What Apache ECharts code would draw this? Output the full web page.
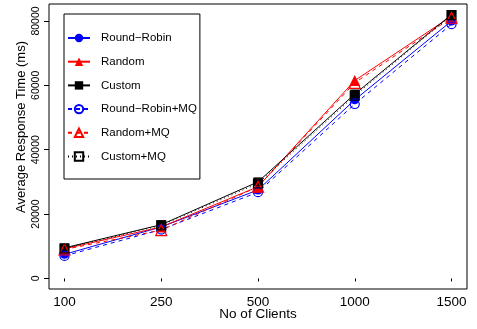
<!DOCTYPE html>
<html>
<head>
<meta charset="utf-8">
<script src="https://cdn.jsdelivr.net/npm/echarts@6/dist/echarts.min.js"></script>
<style>
html,body{margin:0;padding:0;background:#fff;}
#c{width:477px;height:329px;}
</style>
</head>
<body>
<div id="c"></div>
<script>
const categories = ['100', '250', '500', '1000', '1500'];
const roundRobin   = [7500, 16000, 27500, 55500, 80000];
const random       = [9200, 16000, 28500, 61500, 81500];
const custom       = [9500, 16700, 30000, 57300, 82000];
const roundRobinMQ = [7000, 15200, 26800, 54200, 79000];
const randomMQ     = [9000, 15000, 28500, 60800, 81000];
const customMQ     = [9300, 16500, 29500, 56800, 81800];
const yTicks = [0, 20000, 40000, 60000, 80000];
const xTicks = [1, 2, 3, 4, 5];

const FONT = 'Liberation Sans, Arial, Helvetica, sans-serif';
const toPts = arr => arr.map((v, i) => [i + 1, v]);

function mk(name, data, color, symbol, hollow, dash) {
  return {
    name: name,
    type: 'line',
    data: toPts(data),
    symbol: symbol,
    symbolSize: symbol === 'triangle' ? 11 : 9,
    showSymbol: true,
    animation: false,
    lineStyle: { color: color, width: 1, type: dash },
    itemStyle: { color: hollow ? 'transparent' : color, borderColor: color, borderWidth: hollow ? 1.2 : 0 },
    emphasis: { disabled: true }
  };
}

const chart = echarts.init(document.getElementById('c'));
chart.setOption({
  backgroundColor: '#fff',
  animation: false,
  grid: { left: 49, right: 10, top: 4, bottom: 40, show: true, borderColor: '#000', borderWidth: 1, backgroundColor: 'transparent' },
  xAxis: {
    type: 'value', min: 0.84, max: 5.16,
    axisLine: { show: false },
    splitLine: { show: false },
    axisTick: { show: true, length: 3, lineStyle: { color: '#000' }, customValues: xTicks },
    axisLabel: { customValues: xTicks, formatter: v => categories[Math.round(v) - 1], color: '#000', fontFamily: FONT, fontSize: 13.5, margin: 6 }
  },
  yAxis: {
    type: 'value', min: -3280, max: 85280,
    axisLine: { show: false },
    splitLine: { show: false },
    axisTick: { show: true, length: 5, lineStyle: { color: '#000' }, customValues: yTicks },
    axisLabel: { customValues: yTicks, formatter: v => String(v), rotate: 90, color: '#000', fontFamily: FONT, fontSize: 10.5, margin: 7 }
  },
  legend: {
    orient: 'vertical', left: 64, top: 14,
    backgroundColor: '#fff', borderColor: '#000', borderWidth: 1,
    padding: [18, 3, 16.5, 3],
    itemWidth: 22, itemHeight: 10.5, itemGap: 11.7,
    textStyle: { color: '#000', fontFamily: FONT, fontSize: 11.5, padding: [0, 0, 0, 6] },
    data: ['Round\u2212Robin', 'Random', 'Custom', 'Round\u2212Robin+MQ', 'Random+MQ', 'Custom+MQ']
  },
  graphic: [
    { type: 'text', x: 21, y: 127, rotation: Math.PI / 2, style: { text: 'Average Response Time (ms)', font: '13px ' + FONT, fill: '#000', textAlign: 'center', textVerticalAlign: 'middle' } },
    { type: 'text', x: 258, y: 314, style: { text: 'No of Clients', font: '13.5px ' + FONT, fill: '#000', textAlign: 'center', textVerticalAlign: 'middle' } }
  ],
  series: [
    mk('Round\u2212Robin', roundRobin, '#0000ff', 'circle', false, 'solid'),
    mk('Random', random, '#ff0000', 'triangle', false, 'solid'),
    mk('Custom', custom, '#000000', 'rect', false, 'solid'),
    mk('Round\u2212Robin+MQ', roundRobinMQ, '#0000ff', 'circle', true, [4, 4]),
    mk('Random+MQ', randomMQ, '#ff0000', 'triangle', true, [4, 4]),
    mk('Custom+MQ', customMQ, '#000000', 'rect', true, [1, 3])
  ]
});
</script>
</body>
</html>
